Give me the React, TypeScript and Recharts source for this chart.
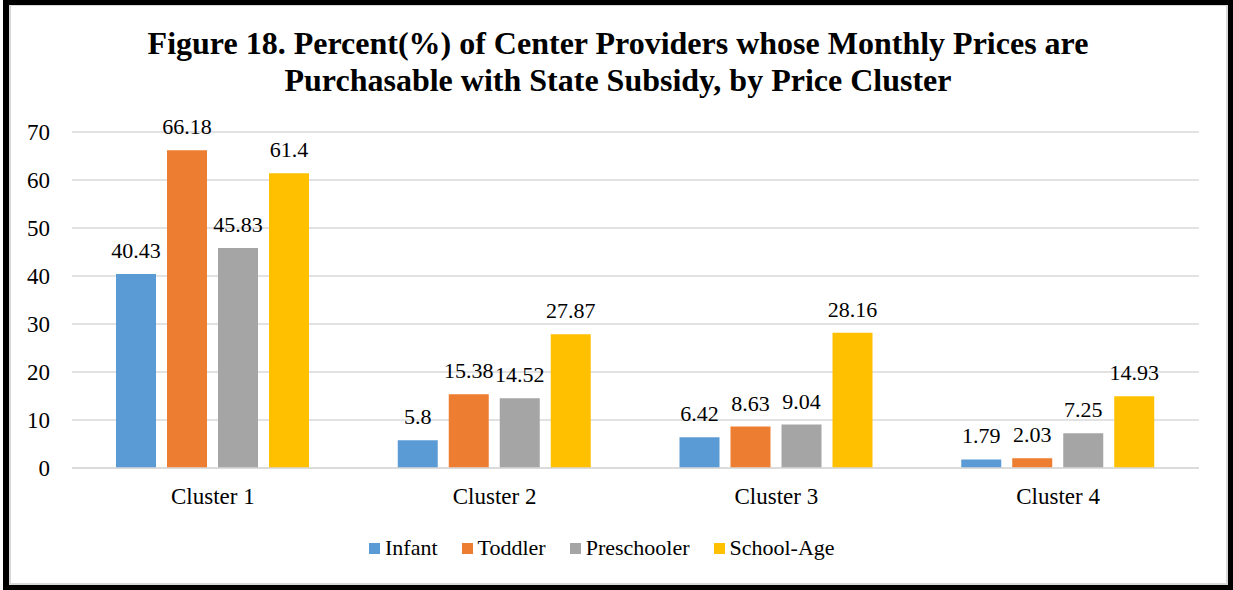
import React from "react";
import { BarChart, Bar, XAxis, YAxis, CartesianGrid, LabelList } from "recharts";

const categories = ["Cluster 1", "Cluster 2", "Cluster 3", "Cluster 4"];
const infant = [40.43, 5.8, 6.42, 1.79];
const toddler = [66.18, 15.38, 8.63, 2.03];
const preschooler = [45.83, 14.52, 9.04, 7.25];
const schoolAge = [61.4, 27.87, 28.16, 14.93];
const yTicks = [0, 10, 20, 30, 40, 50, 60, 70];

const series = [
  { key: "infant", name: "Infant", color: "#5B9BD5", values: infant },
  { key: "toddler", name: "Toddler", color: "#ED7D31", values: toddler },
  { key: "preschooler", name: "Preschooler", color: "#A5A5A5", values: preschooler },
  { key: "schoolAge", name: "School-Age", color: "#FFC000", values: schoolAge },
];

const data = categories.map((c, i) => {
  const row: Record<string, any> = { category: c };
  series.forEach((s) => (row[s.key] = s.values[i]));
  return row;
});

const serif = "Liberation Serif";

const XTick = (props: any) => {
  const { x, y, payload } = props;
  return (
    <text x={x} y={y + 36} textAnchor="middle" fontFamily={serif} fontSize={23} fill="#000">
      {payload.value}
    </text>
  );
};

const YTick = (props: any) => {
  const { x, y, payload } = props;
  return (
    <text x={x - 22} y={y + 8} textAnchor="end" fontFamily={serif} fontSize={23} fill="#000">
      {payload.value}
    </text>
  );
};

const ValueLabel = (props: any) => {
  const { x, y, width, value } = props;
  return (
    <text x={x + width / 2} y={y - 16} textAnchor="middle" fontFamily={serif} fontSize={22} fill="#000">
      {value}
    </text>
  );
};

export default function App() {
  return (
    <div style={{ position: "absolute", left: 0, top: 0, width: 1233, height: 590, background: "#fff", fontFamily: serif }}>
      <div
        style={{
          position: "absolute",
          left: 3,
          top: 0,
          width: 1230,
          height: 590,
          boxSizing: "border-box",
          borderStyle: "solid",
          borderColor: "#000",
          borderWidth: "5px 5px 5px 6px",
        }}
      >
        <div style={{ position: "absolute", inset: 0, border: "2px solid #d9d9d9", borderTopWidth: 1 }} />
      </div>
      <div
        style={{
          position: "absolute",
          left: 3,
          top: 25,
          width: 1230,
          textAlign: "center",
          fontWeight: "bold",
          fontSize: 32,
          lineHeight: "37px",
          color: "#000",
        }}
      >
        Figure 18. Percent(%) of Center Providers whose Monthly Prices are
        <br />
        Purchasable with State Subsidy, by Price Cluster
      </div>
      <div style={{ position: "absolute", left: 0, top: 0 }}>
        <BarChart
          width={1233}
          height={590}
          data={data}
          margin={{ top: 132, right: 34, left: 12, bottom: 92 }}
          barCategoryGap={44}
          barGap={11}
        >
          <CartesianGrid vertical={false} stroke="#d9d9d9" strokeWidth={1.3} />
          <XAxis
            dataKey="category"
            height={30}
            axisLine={{ stroke: "#d9d9d9", strokeWidth: 1.3 }}
            tickLine={false}
            tickSize={0}
            tickMargin={0}
            tick={<XTick />}
          />
          <YAxis
            width={60}
            domain={[0, 70]}
            ticks={yTicks}
            axisLine={false}
            tickLine={false}
            tickSize={0}
            tickMargin={0}
            tick={<YTick />}
          />
          {series.map((s) => (
            <Bar key={s.key} dataKey={s.key} name={s.name} fill={s.color} isAnimationActive={false}>
              <LabelList dataKey={s.key} content={<ValueLabel />} />
            </Bar>
          ))}
        </BarChart>
      </div>
      <div
        style={{
          position: "absolute",
          left: 369,
          top: 535,
          display: "flex",
          alignItems: "center",
          fontSize: 22,
          lineHeight: "26px",
          color: "#000",
        }}
      >
        {series.map((s, i) => (
          <div key={s.key} style={{ display: "flex", alignItems: "center", marginRight: i < series.length - 1 ? 24 : 0 }}>
            <span style={{ display: "inline-block", width: 11, height: 11, background: s.color, marginRight: 5 }} />
            <span>{s.name}</span>
          </div>
        ))}
      </div>
    </div>
  );
}
